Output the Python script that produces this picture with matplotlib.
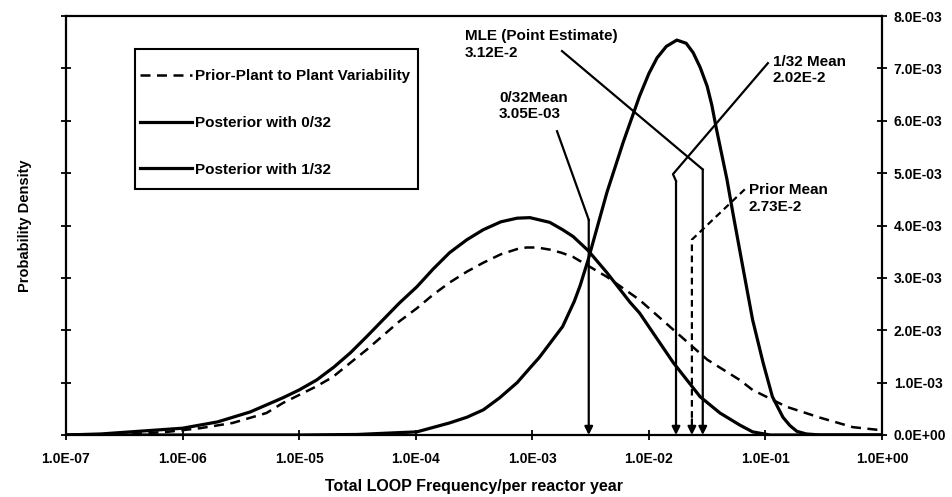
import numpy as np
import matplotlib
matplotlib.use("Agg")
import matplotlib.pyplot as plt
from matplotlib.patches import Rectangle
from matplotlib.ticker import FuncFormatter, FixedLocator, NullLocator

plt.rcParams['font.family'] = ['Liberation Sans', 'DejaVu Sans']
plt.rcParams['font.weight'] = 'bold'

# curves: log10(frequency) and density in units of 1E-03
prior_logx = [-7.0, -6.5, -6.13, -5.85, -5.57, -5.28, -5.14, -4.85, -4.71, -4.56, -4.42, -4.28,
              -4.14, -3.99, -3.85, -3.71, -3.56, -3.42, -3.27, -3.13, -3.05, -2.96, -2.85,
              -2.75, -2.65, -2.36, -2.08, -1.79, -1.50, -1.22, -1.11, -0.82, -0.53, -0.25, 0.0]
prior_y = [0.0, 0.01, 0.06, 0.13, 0.23, 0.42, 0.61, 0.93, 1.11, 1.38, 1.63, 1.90,
           2.17, 2.42, 2.68, 2.91, 3.12, 3.29, 3.45, 3.55, 3.58, 3.58, 3.54,
           3.48, 3.40, 3.02, 2.58, 2.01, 1.44, 1.05, 0.86, 0.54, 0.33, 0.15, 0.09]

post0_logx = [-7.0, -6.7, -6.0, -5.7, -5.42, -5.14, -5.0, -4.85, -4.7, -4.56, -4.42, -4.28,
              -4.14, -3.99, -3.85, -3.71, -3.56, -3.42, -3.27, -3.13, -3.02, -2.85, -2.74,
              -2.65, -2.52, -2.36, -2.16, -2.08, -1.79, -1.56, -1.39, -1.22, -1.11, -0.96, 0.0]
post0_y = [0.0, 0.02, 0.13, 0.25, 0.44, 0.71, 0.86, 1.05, 1.30, 1.57, 1.88, 2.20,
           2.52, 2.83, 3.17, 3.48, 3.73, 3.92, 4.07, 4.14, 4.15, 4.06, 3.92,
           3.79, 3.52, 3.10, 2.53, 2.33, 1.38, 0.73, 0.42, 0.19, 0.06, 0.0, 0.0]

post1_logx = [-7.0, -5.0, -4.5, -4.3, -3.99, -3.71, -3.56, -3.42, -3.28, -3.13, -3.02, -2.94,
              -2.74, -2.64, -2.59, -2.52, -2.36, -2.22, -2.08, -2.0, -1.93, -1.85, -1.76,
              -1.68, -1.62, -1.56, -1.50, -1.46, -1.42, -1.33, -1.28, -1.19, -1.11, -1.02,
              -0.94, -0.85, -0.79, -0.73, -0.65, -0.53, 0.0]
post1_y = [0.0, 0.0, 0.01, 0.03, 0.06, 0.23, 0.34, 0.48, 0.71, 1.0, 1.28, 1.48,
           2.07, 2.55, 2.85, 3.35, 4.63, 5.59, 6.47, 6.90, 7.20, 7.42, 7.54,
           7.48, 7.30, 7.02, 6.66, 6.30, 5.84, 4.88, 4.25, 3.16, 2.20, 1.38,
           0.73, 0.34, 0.18, 0.07, 0.02, 0.0, 0.0]

# vertical marker arrows (where they are drawn in the picture)
mean0_x = 3.05e-3
mean1_x = 1.71e-2
prior_mean_x = 2.34e-2
mle_x = 2.9e-2

labels = ['Prior-Plant to Plant Variability', 'Posterior with 0/32', 'Posterior with 1/32']

fig = plt.figure(figsize=(9.53, 4.97), dpi=100)
ax = fig.add_axes([66 / 953, 62 / 497, 816 / 953, 419 / 497])

def xs(logx):
    return np.power(10.0, np.array(logx))

def ys(y):
    return np.array(y) * 1e-3

ax.plot(xs(prior_logx), ys(prior_y), color='k', lw=1.8, ls=(0, (4, 2.6)), label=labels[0])
ax.plot(xs(post0_logx), ys(post0_y), color='k', lw=2.3, label=labels[1])
ax.plot(xs(post1_logx), ys(post1_y), color='k', lw=2.3, label=labels[2])

ax.set_xscale('log')
ax.set_xlim(1e-7, 1.0)
ax.set_ylim(0, 8e-3)
ax.xaxis.set_major_locator(FixedLocator([10.0 ** k for k in range(-7, 1)]))
ax.xaxis.set_minor_locator(NullLocator())
ax.set_yticks(np.arange(0, 8.01e-3, 1e-3))
ax.xaxis.set_major_formatter(FuncFormatter(lambda v, p: f"{v:.1E}"))
ax.yaxis.set_major_formatter(FuncFormatter(lambda v, p: f"{v:.1E}"))
ax.tick_params(axis='y', left=True, right=True, labelleft=False, labelright=True,
               direction='inout', length=7, width=1.3, labelsize=10, pad=5)
ax.tick_params(axis='x', direction='inout', length=7, width=1.3, labelsize=10, pad=9)
for s in ax.spines.values():
    s.set_linewidth(1.6)

ax.set_xlabel('Total LOOP Frequency/per reactor year', fontsize=11.5, fontweight='bold')
ax.xaxis.set_label_coords(0.5, -0.105)
ax.set_ylabel('Probability Density', fontsize=10.5, fontweight='bold')
ax.yaxis.set_label_position('left')
ax.yaxis.set_label_coords(-34 / 816, 0.5)

# leader lines and arrows
arrow_kw = dict(arrowstyle='-|>', color='k', lw=1.6, mutation_scale=12, shrinkA=0, shrinkB=0)
ax.plot([1.63e-3, mean0_x], [5.80e-3, 4.11e-3], color='k', lw=1.6)
ax.annotate('', xy=(mean0_x, 0), xytext=(mean0_x, 4.11e-3), arrowprops=arrow_kw)

ax.plot([0.105, 1.61e-2, mean1_x], [7.10e-3, 4.98e-3, 4.85e-3], color='k', lw=1.6)
ax.annotate('', xy=(mean1_x, 0), xytext=(mean1_x, 4.85e-3), arrowprops=arrow_kw)

ax.plot([1.80e-3, mle_x], [7.33e-3, 5.07e-3], color='k', lw=1.6)
ax.annotate('', xy=(mle_x, 0), xytext=(mle_x, 5.07e-3), arrowprops=arrow_kw)

ax.plot([6.65e-2, prior_mean_x, prior_mean_x], [4.69e-3, 3.73e-3, 0.3e-3],
        color='k', lw=1.6, ls=(0, (3, 2)))
ax.annotate('', xy=(prior_mean_x, 0), xytext=(prior_mean_x, 0.3e-3), arrowprops=arrow_kw)

txt = dict(fontsize=11, fontweight='bold', ha='left', va='center', linespacing=1.25)
ax.text(2.64e-4, 7.46e-3, 'MLE (Point Estimate)\n3.12E-2', **txt)
ax.text(5.18e-4, 6.28e-3, '0/32Mean\n3.05E-03', **txt)
ax.text(0.1156, 6.97e-3, '1/32 Mean\n2.02E-2', **txt)
ax.text(0.0721, 4.52e-3, 'Prior Mean\n2.73E-2', **txt)

# legend: entries without frame, box drawn separately
ax.add_patch(Rectangle((69 / 816, 246 / 419), 283 / 816, 140 / 419, transform=ax.transAxes,
                       facecolor='white', edgecolor='k', lw=1.5, zorder=4))
leg = ax.legend(loc='upper left', bbox_to_anchor=(74 / 816, 366 / 419), borderaxespad=0,
                prop={'weight': 'bold', 'size': 11}, frameon=False, borderpad=0,
                handlelength=3.4, handletextpad=0.2, labelspacing=2.15)
leg.set_zorder(5)

fig.savefig('out.png', dpi=100)
